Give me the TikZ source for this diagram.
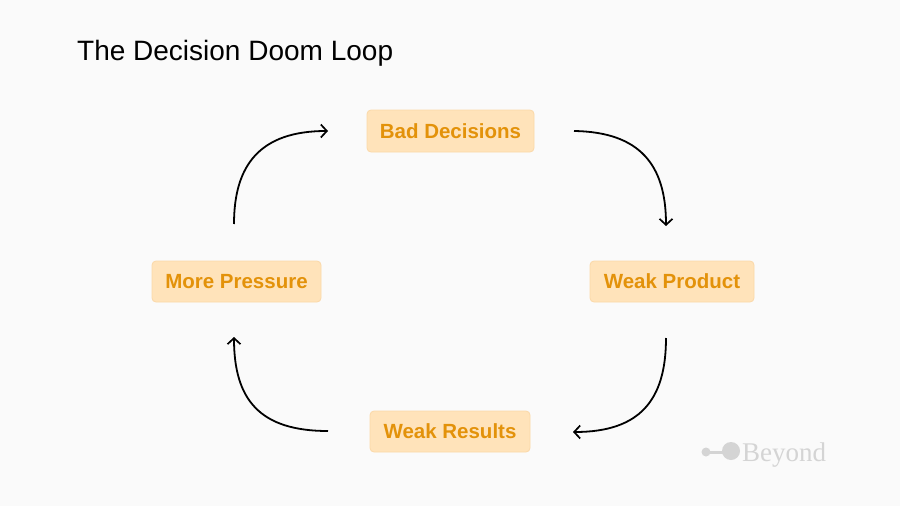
\documentclass[tikz,border=0pt]{standalone}
\usepackage{fontspec}
\setmainfont{Liberation Sans}
\newfontfamily\logofont{Liberation Serif}
\usetikzlibrary{arrows.meta}
\definecolor{bg}{HTML}{FAFAFA}
\definecolor{boxfill}{HTML}{FFE3BA}
\definecolor{boxline}{HTML}{FAD8A8}
\definecolor{boxtext}{HTML}{E3920A}
\definecolor{logogray}{HTML}{D4D4D4}
\tikzset{
  stepbox/.style={draw=boxline, fill=boxfill, rounded corners=4pt, line width=0.8pt,
    text=boxtext, font=\fontsize{20.5}{24}\selectfont\bfseries, inner sep=0pt, anchor=center},
  flow/.style={draw=black, line width=1.8pt, -{Straight Barb[length=6pt,width=13pt,line width=1.7pt]}}
}
\begin{document}
\begin{tikzpicture}[x=1pt,y=-1pt]
\fill[bg] (0,0) rectangle (900,506);
\useasboundingbox (0,0) rectangle (900,506);
\node[anchor=base west, font=\fontsize{28}{32}\selectfont, inner sep=0pt] (title) at (77,60) {The Decision Doom Loop};
\node[stepbox, minimum width=167pt, minimum height=42pt] (bad) at (450.5,131) {Bad Decisions};
\node[stepbox, minimum width=164pt, minimum height=41pt] (prod) at (672,281.5) {Weak Product};
\node[stepbox, minimum width=160pt, minimum height=41pt] (res) at (450,431.5) {Weak Results};
\node[stepbox, minimum width=169pt, minimum height=41pt] (press) at (236.5,281.5) {More Pressure};
\coordinate (a1s) at (574,131);
\coordinate (a1e) at (666,226);
\coordinate (a2s) at (666,338);
\coordinate (a2e) at (573,432);
\coordinate (a3s) at (328,431);
\coordinate (a3e) at (234,337);
\coordinate (a4s) at (234,224);
\coordinate (a4e) at (328,131);
\draw[flow] (a1s) .. controls (640,132) and (666,165) .. (a1e);
\draw[flow] (a2s) .. controls (666,400) and (640,432) .. (a2e);
\draw[flow] (a3s) .. controls (260,431) and (234,400) .. (a3e);
\draw[flow] (a4s) .. controls (234,165) and (260,131) .. (a4e);
% logo
\fill[logogray] (706,452) circle (4.5);
\draw[logogray, line width=3pt] (706,452) -- (724,452);
\fill[logogray] (731,451) circle (9);
\node[anchor=base west, text=logogray, font=\logofont\fontsize{27}{30}\selectfont, inner sep=0pt] (logo) at (742,461) {Beyond};
\end{tikzpicture}
\end{document}
